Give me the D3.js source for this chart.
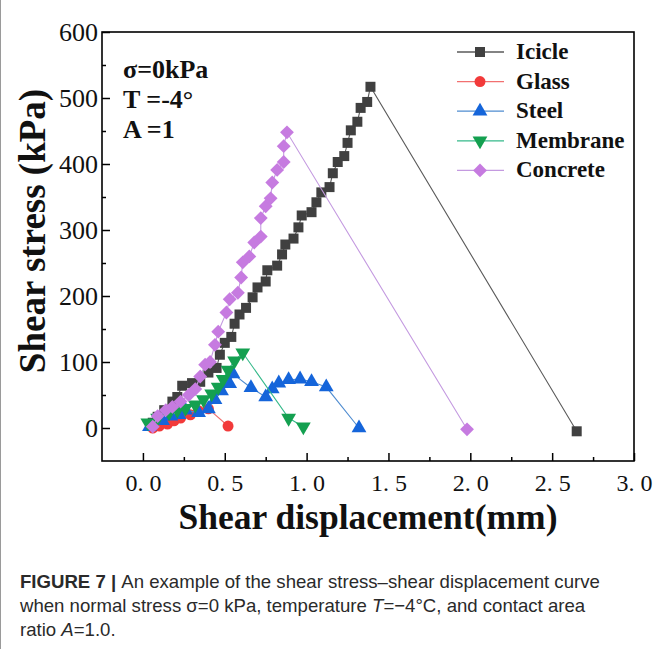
<!DOCTYPE html>
<html>
<head>
<meta charset="utf-8">
<script src="https://cdn.jsdelivr.net/npm/d3@7"></script>
<style>
  body { margin: 0; background: #fff; }
  svg { display: block; }
</style>
</head>
<body>
<div id="chart"></div>
<script>
// data: [displacement mm, stress kPa]
var icicle = [[0.06, 8], [0.09, 17], [0.13, 27], [0.18, 40], [0.21, 47], [0.24, 64], [0.30, 68],
  [0.35, 70], [0.40, 84], [0.45, 91], [0.47, 111], [0.50, 129], [0.54, 138], [0.56, 158],
  [0.59, 172], [0.63, 182], [0.67, 198], [0.70, 213], [0.75, 222], [0.76, 239], [0.82, 246],
  [0.85, 263], [0.87, 278], [0.92, 287], [0.95, 304], [0.97, 322], [1.03, 327], [1.06, 342],
  [1.09, 357], [1.14, 365], [1.16, 386], [1.19, 403], [1.23, 412], [1.25, 432], [1.27, 451],
  [1.31, 464], [1.33, 485], [1.37, 494], [1.39, 517], [2.65, -5]];
var glass = [[0.06, 0], [0.10, 3], [0.15, 6], [0.19, 11], [0.23, 15], [0.29, 20], [0.34, 26],
  [0.40, 29], [0.52, 3]];
var steel = [[0.04, 2], [0.12, 11], [0.17, 18], [0.22, 20], [0.26, 27], [0.34, 23], [0.40, 29],
  [0.44, 43], [0.48, 56], [0.53, 67], [0.55, 82], [0.66, 61], [0.75, 47], [0.79, 59],
  [0.83, 68], [0.89, 73], [0.96, 74], [1.03, 70], [1.12, 62], [1.32, 0]];
var membrane = [[0.03, 8], [0.09, 15], [0.16, 23], [0.21, 27], [0.26, 30], [0.32, 35], [0.37, 43],
  [0.42, 52], [0.46, 62], [0.49, 74], [0.52, 88], [0.56, 102], [0.61, 114], [0.89, 15], [0.98, 2]];
var concrete = [[0.06, 2], [0.09, 18], [0.14, 27], [0.18, 32], [0.23, 40], [0.28, 50], [0.32, 59],
  [0.35, 78], [0.38, 96], [0.41, 100], [0.44, 126], [0.46, 146], [0.51, 175], [0.53, 195],
  [0.58, 205], [0.60, 228], [0.61, 251], [0.65, 260], [0.68, 281], [0.72, 290], [0.72, 318],
  [0.75, 336], [0.78, 348], [0.79, 372], [0.82, 391], [0.86, 403], [0.86, 427], [0.88, 448],
  [1.98, -2]];

var seriesNames = ["Icicle", "Glass", "Steel", "Membrane", "Concrete"];
var xTicks = [0, 0.5, 1.0, 1.5, 2.0, 2.5, 3.0];
var xMinor = [0.25, 0.75, 1.25, 1.75, 2.25, 2.75];
var yTicks = [0, 100, 200, 300, 400, 500, 600];
var yMinor = [50, 150, 250, 350, 450, 550];

var width = 656, height = 649;
var plotLeft = 102, plotRight = 634, plotTop = 32, plotBottom = 461;

var svg = d3.select("#chart").append("svg")
  .attr("width", width)
  .attr("height", height);

// thin page border on the left
svg.append("line")
  .attr("x1", 0.5).attr("x2", 0.5).attr("y1", 0).attr("y2", height)
  .attr("stroke", "#9a9a9a").attr("stroke-width", 1);

var x = d3.scaleLinear().domain([-0.25, 3.0]).range([plotLeft, plotRight]);
var y = d3.scaleLinear().domain([-50, 600]).range([plotBottom, plotTop]);

var serif = "'Liberation Serif', 'Times New Roman', serif";

// style per series
var styles = {
  Icicle:   { data: icicle,   line: "#5a5a5a", fill: "#404040", sym: d3.symbolSquare,   size: 100, rot: 0 },
  Glass:    { data: glass,    line: "#f27070", fill: "#f23a3a", sym: d3.symbolCircle,   size: 95,  rot: 0 },
  Steel:    { data: steel,    line: "#4f8cd0", fill: "#1565da", sym: d3.symbolTriangle, size: 95,  rot: 0 },
  Membrane: { data: membrane, line: "#35b98a", fill: "#14a050", sym: d3.symbolTriangle, size: 95,  rot: 180 },
  Concrete: { data: concrete, line: "#c49ae0", fill: "#c67be0", sym: d3.symbolSquare,   size: 96,  rot: 45 }
};

// axes: ticks point inward
var xAxis = d3.axisBottom(x).tickValues(xTicks).tickSizeInner(-8).tickSizeOuter(0)
  .tickFormat(function (d) { return d3.format(".1f")(d).replace(".", ". "); });
var yAxis = d3.axisLeft(y).tickValues(yTicks).tickSizeInner(-8).tickSizeOuter(0);

var gx = svg.append("g").attr("transform", "translate(0," + plotBottom + ")").call(xAxis);
gx.select(".domain").remove();
gx.selectAll(".tick line").attr("stroke", "#000").attr("stroke-width", 1.5);
gx.selectAll(".tick text")
  .attr("y", 13)
  .style("font-family", serif)
  .style("font-size", "24px")
  .style("fill", "#111");

var gxm = svg.append("g").attr("transform", "translate(0," + plotBottom + ")")
  .call(d3.axisBottom(x).tickValues(xMinor).tickSizeInner(-4).tickSizeOuter(0).tickFormat(""));
gxm.select(".domain").remove();
gxm.selectAll(".tick line").attr("stroke", "#000").attr("stroke-width", 1.5);

var gy = svg.append("g").attr("transform", "translate(" + plotLeft + ",0)").call(yAxis);
gy.select(".domain").remove();
gy.selectAll(".tick line").attr("stroke", "#000").attr("stroke-width", 1.5);
gy.selectAll(".tick text")
  .attr("x", -4)
  .style("font-family", serif)
  .style("font-size", "26px")
  .style("fill", "#111");

var gym = svg.append("g").attr("transform", "translate(" + plotLeft + ",0)")
  .call(d3.axisLeft(y).tickValues(yMinor).tickSizeInner(-4).tickSizeOuter(0).tickFormat(""));
gym.select(".domain").remove();
gym.selectAll(".tick line").attr("stroke", "#000").attr("stroke-width", 1.5);

// frame
svg.append("rect")
  .attr("x", plotLeft).attr("y", plotTop)
  .attr("width", plotRight - plotLeft).attr("height", plotBottom - plotTop)
  .attr("fill", "none").attr("stroke", "#000").attr("stroke-width", 1.6);

// lines + markers
var line = d3.line()
  .x(function (d) { return x(d[0]); })
  .y(function (d) { return y(d[1]); });

seriesNames.forEach(function (name) {
  var s = styles[name];
  svg.append("path")
    .datum(s.data)
    .attr("d", line)
    .attr("fill", "none")
    .attr("stroke", s.line)
    .attr("stroke-width", 1.1);

  svg.append("g").selectAll("path")
    .data(s.data)
    .enter()
    .append("path")
    .attr("d", d3.symbol().type(s.sym).size(s.size))
    .attr("transform", function (d) {
      return "translate(" + x(d[0]) + "," + y(d[1]) + ") rotate(" + s.rot + ")";
    })
    .attr("fill", s.fill);
});

// legend
var legend = svg.selectAll(".legend")
  .data(seriesNames)
  .enter()
  .append("g")
  .attr("class", "legend")
  .attr("transform", function (d, i) { return "translate(0," + (52 + i * 29.6) + ")"; });

legend.append("line")
  .attr("x1", 457).attr("x2", 504).attr("y1", 0).attr("y2", 0)
  .attr("stroke", function (d) { return styles[d].line; })
  .attr("stroke-width", 1.3);

legend.append("path")
  .attr("d", function (d) { return d3.symbol().type(styles[d].sym).size(styles[d].size)(); })
  .attr("transform", function (d) { return "translate(480,0) rotate(" + styles[d].rot + ")"; })
  .attr("fill", function (d) { return styles[d].fill; });

legend.append("text")
  .attr("x", 516)
  .attr("y", 7)
  .text(function (d) { return d; })
  .style("font-family", serif)
  .style("font-weight", "bold")
  .style("font-size", "23px")
  .style("fill", "#111");

// test condition notes
var notes = ["σ=0kPa", "T =-4°", "A =1"];
svg.selectAll(".note")
  .data(notes)
  .enter()
  .append("text")
  .attr("class", "note")
  .attr("x", 123)
  .attr("y", function (d, i) { return 78 + i * 30; })
  .text(function (d) { return d; })
  .style("font-family", serif)
  .style("font-weight", "bold")
  .style("font-size", "26px")
  .style("fill", "#111");

// axis titles
svg.append("text")
  .attr("x", 368)
  .attr("y", 529)
  .attr("text-anchor", "middle")
  .text("Shear displacement(mm)")
  .style("font-family", serif)
  .style("font-weight", "bold")
  .style("font-size", "35.5px")
  .style("fill", "#111");

svg.append("text")
  .attr("transform", "translate(45,231) rotate(-90)")
  .attr("text-anchor", "middle")
  .text("Shear stress (kPa)")
  .style("font-family", serif)
  .style("font-weight", "bold")
  .style("font-size", "37px")
  .style("fill", "#111");

// caption
var sans = "'Liberation Sans', Arial, sans-serif";
var cap = svg.append("g")
  .style("font-family", sans)
  .style("font-size", "18.6px")
  .style("fill", "#2a2a2a");

var l1 = cap.append("text").attr("x", 20).attr("y", 588);
l1.append("tspan").style("font-weight", "bold").text("FIGURE 7 | ");
l1.append("tspan").text("An example of the shear stress\u2013shear displacement curve");

var l2 = cap.append("text").attr("x", 20).attr("y", 612);
l2.append("tspan").text("when normal stress \u03c3=0 kPa, temperature ");
l2.append("tspan").style("font-style", "italic").text("T");
l2.append("tspan").text("=\u22124\u00b0C, and contact area");

var l3 = cap.append("text").attr("x", 20).attr("y", 636);
l3.append("tspan").text("ratio ");
l3.append("tspan").style("font-style", "italic").text("A");
l3.append("tspan").text("=1.0.");
</script>
</body>
</html>
